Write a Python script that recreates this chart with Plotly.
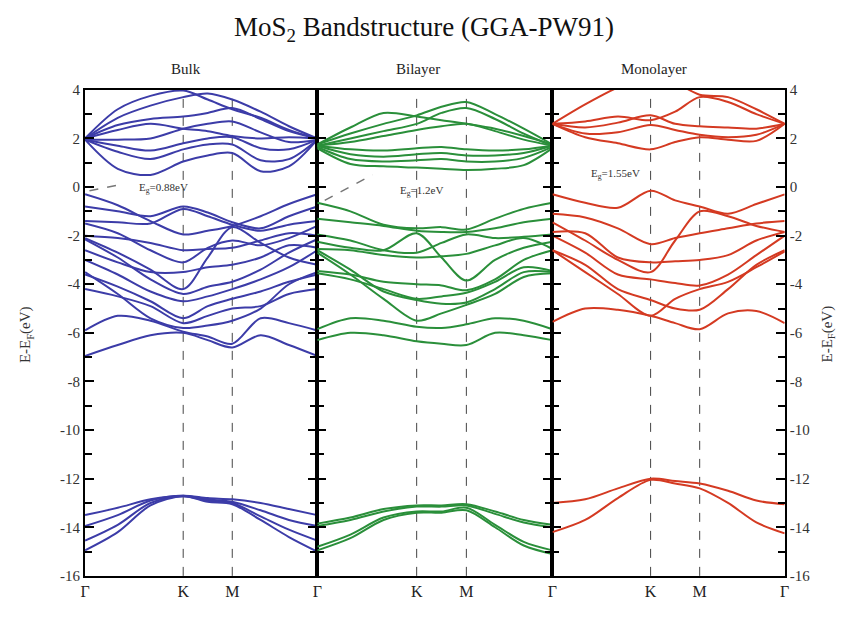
import plotly.graph_objects as go

# ---------------- data ----------------
k_points = [0.0, 0.2222, 0.4444, 0.6667, 0.8333, 1.0, 1.1925, 1.3849, 1.5774]
k_sym = [0.0, 0.6667, 1.0, 1.5774]
k_labels = ["Γ", "K", "M", "Γ"]
y_ticks = [4, 2, 0, -2, -4, -6, -8, -10, -12, -14, -16]
y_ticktext = ["4", "2", "0", "-2", "-4", "-6", "-8", "-10", "-12", "-14", "-16"]
panel_names = ["Bulk", "Bilayer", "Monolayer"]
gap_labels = ["E<sub>g</sub>=0.88eV", "E<sub>g</sub>=1.2eV", "E<sub>g</sub>=1.55eV"]

bulk_cb = [
    [2.0, 3.2, 3.75, 3.97, 3.6, 3.2, 2.85, 2.35, 2.0],
    [2.0, 2.85, 3.35, 3.7, 3.85, 3.6, 3.1, 2.5, 2.0],
    [2.0, 2.55, 2.8, 2.9, 3.05, 3.25, 2.8, 2.3, 2.0],
    [2.0, 2.35, 2.6, 2.4, 2.3, 2.1, 2.0, 2.05, 2.0],
    [1.95, 1.95, 2.0, 2.4, 2.6, 2.7, 2.25, 1.85, 1.95],
    [1.95, 1.7, 1.5, 1.8, 2.0, 2.05, 1.6, 1.55, 1.95],
    [1.95, 1.45, 1.15, 1.55, 1.75, 1.75, 1.1, 1.15, 1.95],
    [1.95, 0.75, 0.5, 1.05, 1.3, 1.4, 0.65, 0.85, 1.95],
]
bulk_vb = [
    [-0.3, -0.75, -1.4, -1.95, -1.8, -1.6, -1.2, -0.7, -0.3],
    [-0.8, -1.0, -1.2, -0.8, -1.05, -1.45, -1.7, -1.2, -0.8],
    [-1.4, -1.45, -1.5, -0.9, -1.2, -1.55, -1.8, -1.55, -1.4],
    [-1.5, -1.9, -2.6, -3.1, -2.5, -2.2, -2.4, -2.1, -1.6],
    [-2.0, -2.1, -2.3, -2.6, -2.55, -2.5, -2.2, -1.9, -2.0],
    [-2.1, -2.7, -3.4, -4.2, -2.9, -1.65, -2.3, -2.9, -3.2],
    [-2.15, -2.9, -3.8, -4.4, -4.1, -3.9, -3.4, -2.7, -2.15],
    [-2.6, -3.1, -3.5, -3.5, -3.3, -3.2, -2.9, -2.4, -2.5],
    [-3.0, -3.6, -4.3, -4.7, -4.5, -4.2, -3.8, -3.3, -2.6],
    [-3.6, -4.1, -4.7, -5.4, -4.9, -4.6, -4.3, -3.9, -3.6],
    [-4.2, -4.5, -4.9, -5.6, -5.3, -5.0, -4.9, -4.4, -4.2],
    [-3.5, -4.4, -5.4, -5.8, -5.7, -5.5, -5.0, -4.0, -3.5],
    [-5.9, -5.3, -5.5, -5.95, -6.15, -6.45, -5.4, -5.6, -5.9],
    [-6.95, -6.5, -6.1, -6.0, -6.3, -6.6, -6.1, -6.5, -6.95],
]
bulk_s = [
    [-13.5, -13.2, -12.85, -12.7, -12.8, -12.85, -13.0, -13.25, -13.5],
    [-13.95, -13.5, -12.9, -12.7, -12.85, -12.95, -13.3, -13.7, -13.95],
    [-14.55, -13.9, -13.0, -12.72, -12.9, -13.0, -13.55, -14.1, -14.55],
    [-14.95, -14.2, -13.1, -12.72, -12.95, -13.05, -13.7, -14.4, -15.0],
]

bilayer_cb = [
    [1.75, 2.45, 3.05, 2.9, 2.75, 2.6, 2.4, 2.1, 1.75],
    [1.75, 2.2, 2.6, 2.95, 3.3, 3.5, 3.0, 2.4, 1.75],
    [1.7, 2.0, 2.3, 2.6, 3.05, 3.25, 2.8, 2.2, 1.7],
    [1.7, 1.85, 2.1, 2.35, 2.5, 2.6, 2.3, 1.95, 1.7],
    [1.7, 1.55, 1.5, 1.6, 1.65, 1.55, 1.5, 1.55, 1.7],
    [1.7, 1.35, 1.25, 1.35, 1.4, 1.3, 1.3, 1.4, 1.7],
    [1.65, 1.15, 1.05, 1.1, 1.15, 1.05, 1.05, 1.2, 1.65],
    [1.6, 0.95, 0.85, 0.8, 0.75, 0.7, 0.75, 0.9, 1.6],
]
bilayer_vb = [
    [-0.65, -1.0, -1.55, -1.7, -1.65, -1.75, -1.3, -0.9, -0.65],
    [-1.3, -1.45, -1.6, -1.8, -1.85, -1.85, -1.7, -1.45, -1.3],
    [-1.95, -2.2, -2.6, -2.7, -2.3, -1.95, -2.1, -2.05, -1.95],
    [-2.25, -2.5, -2.6, -1.9, -2.9, -3.85, -3.0, -2.5, -2.25],
    [-2.55, -2.6, -2.8, -2.9, -2.85, -2.75, -2.4, -2.1, -2.55],
    [-3.45, -3.6, -3.9, -4.0, -4.05, -4.25, -3.8, -3.0, -2.6],
    [-3.55, -3.8, -4.2, -4.6, -4.5, -4.35, -3.9, -3.3, -3.45],
    [-2.6, -3.4, -4.3, -4.65, -4.8, -4.75, -4.2, -3.5, -3.5],
    [-2.7, -3.6, -4.6, -5.5, -5.2, -4.85, -4.4, -3.7, -3.55],
    [-5.85, -5.4, -5.5, -5.75, -5.8, -5.65, -5.4, -5.5, -5.85],
    [-6.3, -6.0, -6.1, -6.35, -6.45, -6.5, -6.0, -6.1, -6.3],
]
bilayer_s = [
    [-13.85, -13.6, -13.25, -13.1, -13.1, -13.05, -13.35, -13.7, -13.9],
    [-13.95, -13.7, -13.35, -13.15, -13.15, -13.1, -13.45, -13.8, -14.0],
    [-14.8, -14.3, -13.6, -13.35, -13.35, -13.2, -13.9, -14.6, -14.95],
    [-14.95, -14.45, -13.7, -13.4, -13.4, -13.3, -14.0, -14.75, -15.1],
]

mono_cb = [
    [2.6, 2.05, 1.8, 1.55, 1.85, 2.05, 1.95, 1.9, 2.6],
    [2.6, 2.2, 2.25, 2.55, 2.35, 2.15, 2.05, 2.15, 2.6],
    [2.6, 2.45, 2.65, 2.95, 2.6, 2.5, 2.45, 2.4, 2.6],
    [2.6, 2.7, 2.9, 2.75, 3.1, 3.7, 3.5, 3.0, 2.6],
    [2.6, 3.4, 4.1, 4.6, 4.3, 3.8, 3.7, 3.2, 2.6],
]
mono_vb = [
    [-0.3, -0.65, -0.85, -0.15, -0.55, -0.8, -1.1, -0.7, -0.3],
    [-1.1, -1.25, -1.7, -2.35, -2.1, -1.9, -1.7, -1.5, -1.4],
    [-1.45, -2.2, -3.0, -3.5, -2.2, -1.0, -1.2, -1.6, -1.85],
    [-1.85, -1.9, -2.9, -3.1, -3.05, -3.0, -2.8, -2.2, -1.85],
    [-2.0, -2.7, -3.6, -3.8, -3.95, -4.05, -3.6, -2.8, -2.0],
    [-2.6, -3.2, -4.2, -4.65, -5.0, -5.05, -4.2, -3.2, -2.6],
    [-2.6, -3.5, -4.4, -5.3, -4.6, -4.2, -3.9, -3.3, -2.65],
    [-5.55, -5.0, -5.05, -5.3, -5.6, -5.85, -5.2, -5.1, -5.6],
]
mono_s = [
    [-13.0, -12.85, -12.4, -12.0, -12.1, -12.2, -12.5, -12.9, -13.05],
    [-14.2, -13.7, -12.8, -12.05, -12.2, -12.4, -13.0, -13.8, -14.25],
]

panel_bands = [bulk_cb + bulk_vb + bulk_s,
               bilayer_cb + bilayer_vb + bilayer_s,
               mono_cb + mono_vb + mono_s]
panel_colors = ["#3c3ca8", "#2a8f3a", "#d43a22"]

# ---------------- layout geometry ----------------
W, H = 847, 617
px_left = [81, 316, 554]
px_right = [316, 554, 789]
y_top, y_bot = 84, 583

fig = go.Figure()
serif = "Liberation Serif, Times New Roman, serif"

for i in range(3):
    xa = "x" if i == 0 else f"x{i+1}"
    ya = "y" if i == 0 else f"y{i+1}"
    for band in panel_bands[i]:
        fig.add_trace(go.Scatter(
            x=k_points, y=band, mode="lines", xaxis=xa, yaxis=ya,
            line=dict(color=panel_colors[i], width=2, shape="spline", smoothing=0.9),
            showlegend=False, hoverinfo="skip"))
    for kx in k_sym[1:3]:
        fig.add_shape(type="line", xref=xa, yref=ya, x0=kx, x1=kx, y0=-16, y1=4,
                      line=dict(color="#444444", width=1, dash="dash"), layer="below")

layout = dict(width=W, height=H, margin=dict(l=0, r=0, t=0, b=0),
              paper_bgcolor="white", plot_bgcolor="white", showlegend=False)

for i in range(3):
    xk = "xaxis" if i == 0 else f"xaxis{i+1}"
    yk = "yaxis" if i == 0 else f"yaxis{i+1}"
    ya = "y" if i == 0 else f"y{i+1}"
    xa = "x" if i == 0 else f"x{i+1}"
    tv = k_sym if i == 0 else k_sym[1:]
    tt = k_labels if i == 0 else k_labels[1:]
    layout[xk] = dict(domain=[px_left[i] / W, px_right[i] / W], anchor=ya,
                      range=[0, 1.5774], showgrid=False, zeroline=False,
                      showline=True, linecolor="black", linewidth=2, mirror=True,
                      ticks="", tickvals=tv, ticktext=tt,
                      tickfont=dict(family=serif, size=16, color="#222"))
    layout[yk] = dict(domain=[1 - y_bot / H, 1 - y_top / H], anchor=xa,
                      range=[-16, 4], showgrid=False, zeroline=False,
                      showline=True, linecolor="black", linewidth=2, mirror="ticks",
                      ticks="inside", ticklen=9, tickwidth=2, tickcolor="black",
                      tickvals=y_ticks, ticktext=y_ticktext,
                      showticklabels=(i != 1),
                      side="right" if i == 2 else "left",
                      tickfont=dict(family=serif, size=15, color="#333"),
                      minor=dict(dtick=1, tick0=0, ticks="inside", ticklen=7,
                                 tickwidth=2, tickcolor="black"))
fig.update_layout(**layout)

ann = []
ann.append(dict(text="MoS<sub>2</sub> Bandstructure (GGA-PW91)", xref="paper", yref="paper",
                x=0.5, y=1 - 22 / H, showarrow=False, xanchor="center", yanchor="middle",
                font=dict(family=serif, size=27, color="#111")))
sub_x = [183, 418, 657]
for name, sx in zip(panel_names, sub_x):
    ann.append(dict(text=name, xref="paper", yref="paper", x=sx / W, y=1 - 63 / H,
                    showarrow=False, xanchor="center", yanchor="middle",
                    font=dict(family=serif, size=15, color="#222")))
for xpos in [22, 833]:
    ann.append(dict(text="E-E<sub>F</sub>(eV)", xref="paper", yref="paper", x=xpos / W,
                    y=1 - 335 / H, showarrow=False, textangle=-90,
                    xanchor="center", yanchor="middle",
                    font=dict(family=serif, size=15, color="#333")))
gap_pos = [(0.53, -0.05, "x", "y"), (0.70, -0.15, "x2", "y2"), (0.43, 0.55, "x3", "y3")]
for lab, (gx, gy, xa, ya) in zip(gap_labels, gap_pos):
    ann.append(dict(text=lab, xref=xa, yref=ya, x=gx, y=gy, showarrow=False,
                    xanchor="center", yanchor="middle",
                    font=dict(family=serif, size=11, color="#333")))
fig.update_layout(annotations=ann)

fig.add_shape(type="line", xref="x", yref="y", x0=0.03, y0=-0.15, x1=0.24, y1=0.1,
              line=dict(color="#777", width=1.5, dash="dash"))
fig.add_shape(type="line", xref="x2", yref="y2", x0=0.05, y0=-0.55, x1=0.37, y1=0.5,
              line=dict(color="#777", width=1.5, dash="dash"))

fig.write_html("out.html")
